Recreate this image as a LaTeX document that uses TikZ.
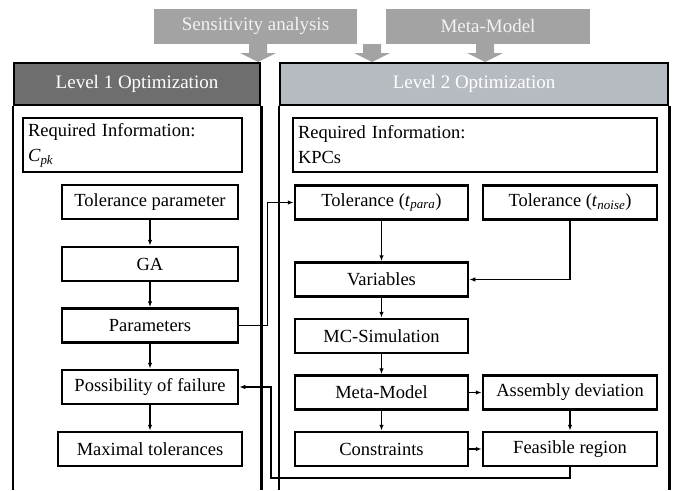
\documentclass[tikz,border=0pt]{standalone}
\usepackage{fontspec}
\setmainfont{Liberation Serif}
\usetikzlibrary{arrows.meta,positioning}
\definecolor{topgray}{HTML}{A3A3A3}
\definecolor{headdark}{HTML}{6E6E6E}
\definecolor{headlight}{HTML}{B6BBC1}
\tikzset{
  stepbox/.style={draw, line width=2.5pt, minimum height=34pt, inner sep=0pt,
    font=\fontsize{18.5}{22}\selectfont},
  infobox/.style={draw, line width=1.1pt, minimum height=54pt, inner xsep=5pt,
    align=left, font=\fontsize{18.5}{25}\selectfont},
  lvlhead/.style={draw, line width=2.5pt, minimum height=42pt, text=white,
    font=\fontsize{19}{22}\selectfont},
  topbox/.style={fill=topgray, minimum height=35pt, text=white!95!black,
    font=\fontsize{19}{22}\selectfont},
  frame/.style={line width=2.5pt},
  link/.style={line width=1.5pt, -{Latex[length=6pt,width=4.5pt]}}
}
\begin{document}
\begin{tikzpicture}[x=1pt,y=-1pt]
\useasboundingbox (0,0) rectangle (674,490);
% Inputs on top
\node[topbox, minimum width=203pt] (sens) at (255.5,26) {Sensitivity analysis};
\node[topbox, minimum width=204pt] (mmod) at (488,26) {Meta-Model};
\foreach \ax in {258,372,485}
  \fill[topgray] (\ax-9,44) -- (\ax+9,44) -- (\ax+9,53) -- (\ax+18,53) --
    (\ax,62) -- (\ax-18,53) -- (\ax-9,53) -- cycle;
% Level frames
\coordinate (bottom) at (0,490);
\node[lvlhead, fill=headdark, minimum width=246pt] (lvlone) at (137,84) {Level 1 Optimization};
\node[lvlhead, fill=headlight, minimum width=388pt] (lvltwo) at (474,84) {Level 2 Optimization};
\draw[frame] (lvlone.south west) -- (lvlone.south west |- bottom);
\draw[frame] (lvlone.south east) -- (lvlone.south east |- bottom);
\draw[frame] (lvltwo.south west) -- (lvltwo.south west |- bottom);
\draw[frame] (lvltwo.south east) -- (lvltwo.south east |- bottom);
\node[infobox, text width=209pt] (reqone) at (132.5,145)
  {Required Information:\\\textit{C}\textsubscript{\textit{pk}}};
\node[infobox, text width=354pt] (reqtwo) at (475,145)
  {Required Information:\\KPCs};
% Level 1 steps
\node[stepbox, minimum width=176pt] (tolpar) at (150,202) {Tolerance parameter};
\node[stepbox, minimum width=176pt] (ga) at (150,264) {GA};
\node[stepbox, minimum width=176pt] (param) at (150,325.5) {Parameters};
\node[stepbox, minimum width=176pt] (fail) at (150,387) {Possibility of failure};
\node[stepbox, minimum width=184pt] (maxtol) at (150,449) {Maximal tolerances};
% Level 2 steps
\node[stepbox, minimum width=173pt] (tpara) at (381.5,202.5)
  {Tolerance (\textit{t}\textsubscript{\textit{para}})};
\node[stepbox, minimum width=174pt] (tnoise) at (570,202.5)
  {Tolerance (\textit{t}\textsubscript{\textit{noise}})};
\node[stepbox, minimum width=173pt] (vars) at (381.5,279.5) {Variables};
\node[stepbox, minimum width=173pt] (mcsim) at (381.5,336) {MC-Simulation};
\node[stepbox, minimum width=173pt] (meta) at (381.5,392.5) {Meta-Model};
\node[stepbox, minimum width=174pt] (asm) at (570,392.5) {Assembly deviation};
\node[stepbox, minimum width=173pt] (cons) at (381.5,449) {Constraints};
\node[stepbox, minimum width=174pt] (feas) at (570,449) {Feasible region};
% Connectors
\draw[link] (tolpar) -- (ga);
\draw[link] (ga) -- (param);
\draw[link] (param) -- (fail);
\draw[link] (fail) -- (maxtol);
\draw[link] (param.east) -- ++(28,0) |- (tpara.west);
\draw[link] (tpara) -- (vars);
\draw[link] (tnoise.south) |- (vars.east);
\draw[link] (vars) -- (mcsim);
\draw[link] (mcsim) -- (meta);
\draw[link] (meta) -- (cons);
\draw[link] (meta) -- (asm);
\draw[link] (asm) -- (feas);
\draw[link] (cons) -- (feas);
\coordinate (back) at (271,478);
\draw[link] (feas.south) |- (back) |- (fail.east);
\end{tikzpicture}
\end{document}
